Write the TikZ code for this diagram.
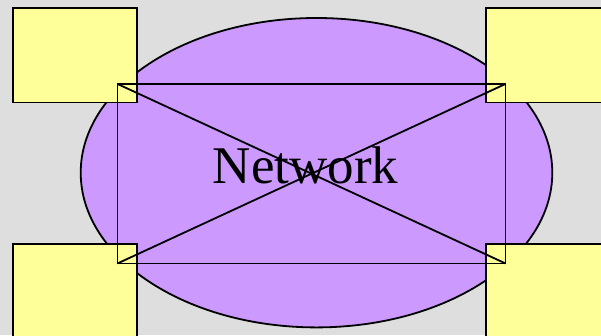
\documentclass[tikz,border=0pt]{standalone}
\usepackage{fontspec}
\setmainfont{Liberation Serif}
\usetikzlibrary{shapes.geometric}
\definecolor{marble}{RGB}{222,222,222}
\definecolor{netpurple}{RGB}{204,153,255}
\definecolor{hostyellow}{RGB}{255,255,153}

\begin{document}
\begin{tikzpicture}[x=1pt, y=-1pt, line width=1.8pt,
      host/.style={draw, fill=hostyellow, minimum width=124pt, minimum height=94.5pt,
                   inner sep=0pt, outer sep=0pt},
      cloud/.style={draw, ellipse, fill=netpurple, minimum width=471.6pt,
                    minimum height=309.4pt, inner sep=0pt, outer sep=0pt},
      frame/.style={draw, minimum width=388pt, minimum height=179.5pt,
                    inner sep=0pt, outer sep=0pt},
      lbl/.style={font=\fontsize{53}{60}\selectfont, inner sep=0pt}]

    % ---- background ----
    \fill[marble] (0,0) rectangle (601,335);
    \useasboundingbox (0,0) rectangle (601,335);
    \clip (0,0) rectangle (601,335);

    % ---- network cloud ----
    \node[cloud] (net) at (316.5,172.7) {};

    % ---- hosts ----
    \node[host] (h1) at (75,55.3) {};
    \node[host] (h2) at (548,55.3) {};
    \node[host] (h3) at (75,291.3) {};
    \node[host] (h4) at (548,291.3) {};

    % ---- links ----
    \node[frame] (box) at (311.5,173.7) {};
    \draw (box.north west) -- (box.south east);
    \draw (box.south west) -- (box.north east);

    \node[lbl] (name) at (305.5,165) {Network};

\end{tikzpicture}
\end{document}
